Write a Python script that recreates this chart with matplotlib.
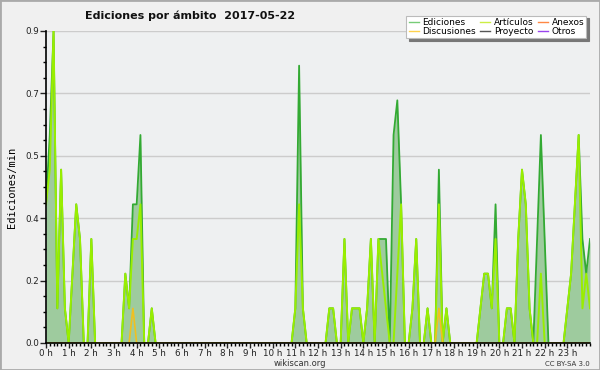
import numpy as np
import matplotlib
matplotlib.use("Agg")
from matplotlib import pyplot as plt
from matplotlib.patches import Rectangle
from matplotlib.ticker import MultipleLocator

# valores cada 10 minutos (ediciones/min), una fila por hora
ediciones = [
    0.4, 0.6, 0.9, 0.1, 0.5, 0.1,   # 0 h
    0.0, 0.2, 0.4, 0.3, 0.0, 0.0,   # 1 h
    0.3, 0.0, 0.0, 0.0, 0.0, 0.0,   # 2 h
    0.0, 0.0, 0.0, 0.2, 0.1, 0.4,   # 3 h
    0.4, 0.6, 0.0, 0.0, 0.1, 0.0,   # 4 h
    0.0, 0.0, 0.0, 0.0, 0.0, 0.0,   # 5 h
    0.0, 0.0, 0.0, 0.0, 0.0, 0.0,   # 6 h
    0.0, 0.0, 0.0, 0.0, 0.0, 0.0,   # 7 h
    0.0, 0.0, 0.0, 0.0, 0.0, 0.0,   # 8 h
    0.0, 0.0, 0.0, 0.0, 0.0, 0.0,   # 9 h
    0.0, 0.0, 0.0, 0.0, 0.0, 0.0,   # 10 h
    0.1, 0.8, 0.1, 0.0, 0.0, 0.0,   # 11 h
    0.0, 0.0, 0.0, 0.1, 0.1, 0.0,   # 12 h
    0.0, 0.3, 0.0, 0.1, 0.1, 0.1,   # 13 h
    0.0, 0.1, 0.3, 0.0, 0.3, 0.3,   # 14 h
    0.3, 0.0, 0.6, 0.7, 0.4, 0.0,   # 15 h
    0.0, 0.1, 0.3, 0.0, 0.0, 0.1,   # 16 h
    0.0, 0.0, 0.5, 0.0, 0.1, 0.0,   # 17 h
    0.0, 0.0, 0.0, 0.0, 0.0, 0.0,   # 18 h
    0.0, 0.1, 0.2, 0.2, 0.1, 0.4,   # 19 h
    0.0, 0.0, 0.1, 0.1, 0.0, 0.3,   # 20 h
    0.5, 0.4, 0.1, 0.0, 0.3, 0.6,   # 21 h
    0.3, 0.0, 0.0, 0.0, 0.0, 0.0,   # 22 h
    0.1, 0.2, 0.4, 0.6, 0.3, 0.2,   # 23 h
    0.3,
]
articulos = [
    0.4, 0.5, 0.9, 0.1, 0.5, 0.1,
    0.0, 0.2, 0.4, 0.3, 0.0, 0.0,
    0.3, 0.0, 0.0, 0.0, 0.0, 0.0,
    0.0, 0.0, 0.0, 0.2, 0.1, 0.3,
    0.3, 0.4, 0.0, 0.0, 0.1, 0.0,
    0.0, 0.0, 0.0, 0.0, 0.0, 0.0,
    0.0, 0.0, 0.0, 0.0, 0.0, 0.0,
    0.0, 0.0, 0.0, 0.0, 0.0, 0.0,
    0.0, 0.0, 0.0, 0.0, 0.0, 0.0,
    0.0, 0.0, 0.0, 0.0, 0.0, 0.0,
    0.0, 0.0, 0.0, 0.0, 0.0, 0.0,
    0.1, 0.4, 0.1, 0.0, 0.0, 0.0,
    0.0, 0.0, 0.0, 0.1, 0.1, 0.0,
    0.0, 0.3, 0.0, 0.1, 0.1, 0.1,
    0.0, 0.1, 0.3, 0.0, 0.3, 0.2,
    0.1, 0.0, 0.0, 0.2, 0.4, 0.0,
    0.0, 0.1, 0.3, 0.0, 0.0, 0.1,
    0.0, 0.0, 0.4, 0.0, 0.1, 0.0,
    0.0, 0.0, 0.0, 0.0, 0.0, 0.0,
    0.0, 0.1, 0.2, 0.2, 0.1, 0.3,
    0.0, 0.0, 0.1, 0.1, 0.0, 0.3,
    0.5, 0.4, 0.1, 0.0, 0.0, 0.2,
    0.0, 0.0, 0.0, 0.0, 0.0, 0.0,
    0.1, 0.2, 0.4, 0.6, 0.1, 0.2,
    0.1,
]
# discusiones: solo dos intervalos con ediciones
discusiones_idx = [23, 104]
discusiones_val = [0.1, 0.1]

horas = [f"{h} h" for h in range(24)]

n = len(ediciones)
x = np.arange(n) / 6.0
discusiones = np.zeros(n)
discusiones[discusiones_idx] = discusiones_val
ceros = np.zeros(n)  # Anexos, Proyecto, Otros

fig = plt.figure(figsize=(6, 3.7), dpi=100, facecolor='#f0f0f0')
ax = fig.add_axes([46/600, 27/370, 544/600, 312/370])
ax.set_facecolor('#eef0f1')

ax.fill_between(x, ediciones, color='#9ecb9e', lw=0, zorder=2)
ax.plot(x, ceros, color='#555555', lw=1, zorder=1)
ax.plot(x, ceros, color='#ff7733', lw=1, zorder=1)
ax.plot(x, ceros, color='#9933ff', lw=1, zorder=1)
ax.plot(x, ediciones, color='#33aa33', lw=1.3, zorder=3)
ax.plot(x, articulos, color='#99ee00', lw=1.4, zorder=4)
ax.plot(x, discusiones, color='#f0c020', lw=1.2, zorder=5)

ax.set_xlim(0, 24)
ax.set_ylim(0, 0.9)
ax.set_xticks(range(24))
ax.set_xticklabels(horas)
ax.xaxis.set_minor_locator(MultipleLocator(1/6))
yt = [0.18 * k for k in range(6)]
ax.set_yticks(yt)
ax.set_yticklabels([f"{v:.1f}" for v in yt])
ax.yaxis.set_minor_locator(MultipleLocator(0.045))
ax.tick_params(axis='both', labelsize=6.3, colors='#222222', length=4, width=1, pad=1)
ax.tick_params(axis='x', length=3.5, pad=0.5)
ax.tick_params(axis='both', which='minor', length=2.5, width=1)
ax.grid(axis='y', color='#cccccc', lw=1, zorder=0)
ax.set_axisbelow(True)
for s in ['top', 'right']:
    ax.spines[s].set_visible(False)
for s in ['left', 'bottom']:
    ax.spines[s].set_linewidth(1.2)
    ax.spines[s].set_zorder(6)
ax.set_ylabel('Ediciones/min', fontsize=7.5, family='DejaVu Sans Mono', labelpad=6)

fig.text(85/600, 1 - 16/370, 'Ediciones por ámbito  2017-05-22', fontsize=8,
         fontweight='bold', ha='left', va='center', color='#111111')
fig.text(300/600, 1 - 364/370, 'wikiscan.org', fontsize=6, ha='center', va='center', color='#333333')
fig.text(590/600, 1 - 364/370, 'CC BY-SA 3.0', fontsize=5, ha='right', va='center', color='#333333')

labels = ['Ediciones', 'Discusiones', 'Artículos', 'Proyecto', 'Anexos', 'Otros']
colores = ['#77cc77', '#ffd24d', '#ccee44', '#555555', '#ff8844', '#9944ee']
handles = [plt.Line2D([], [], color=c, lw=1) for c in colores]
leg = fig.legend(handles, labels, ncol=3, loc='upper right',
                 bbox_to_anchor=(591/600, 1 - 11/370), fontsize=6.5,
                 handlelength=1.1, handletextpad=0.4, columnspacing=0.5,
                 labelspacing=0.0, borderpad=0.25, fancybox=False,
                 shadow={'color': '#777777', 'alpha': 1}, framealpha=1,
                 edgecolor='#bbbbbb')
leg.get_frame().set_linewidth(0.8)

fig.patches.append(Rectangle((0, 0), 1, 1, transform=fig.transFigure, fill=False,
                             edgecolor='#aaaaaa', lw=2))

plt.savefig('out.png', dpi=100, facecolor=fig.get_facecolor())
